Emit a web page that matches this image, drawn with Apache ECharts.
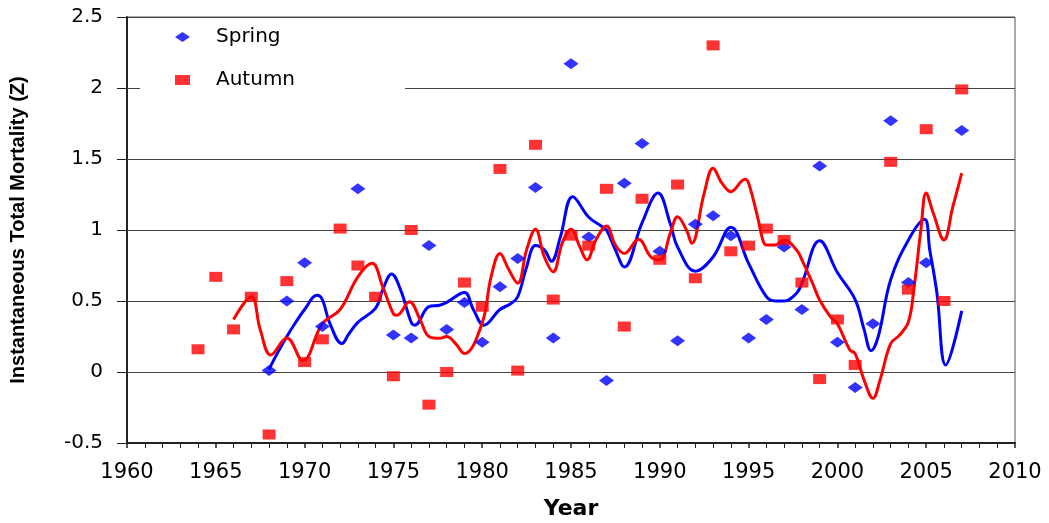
<!DOCTYPE html>
<html>
<head>
<meta charset="utf-8">
<script src="https://cdn.jsdelivr.net/npm/echarts@6/dist/echarts.min.js"></script>
<style>html,body{margin:0;padding:0;background:#fff;overflow:hidden}#c{width:1049px;height:523px}</style>
</head>
<body>
<div id="c"></div>
<script>
// Scatter data: [year, Z]
var springPoints = [[1968,0.01],[1969,0.5],[1970,0.77],[1971,0.32],[1973,1.29],[1975,0.26],[1976,0.24],[1977,0.89],[1978,0.3],[1979,0.49],[1980,0.21],[1981,0.6],[1982,0.8],[1983,1.3],[1984,0.24],[1985,2.17],[1986,0.95],[1987,-0.06],[1988,1.33],[1989,1.61],[1990,0.85],[1991,0.22],[1992,1.04],[1993,1.1],[1994,0.96],[1995,0.24],[1996,0.37],[1997,0.88],[1998,0.44],[1999,1.45],[2000,0.21],[2001,-0.11],[2002,0.34],[2003,1.77],[2004,0.63],[2005,0.77],[2007,1.7]];
var autumnPoints = [[1964,0.16],[1965,0.67],[1966,0.3],[1967,0.53],[1968,-0.44],[1969,0.64],[1970,0.07],[1971,0.23],[1972,1.01],[1973,0.75],[1974,0.53],[1975,-0.03],[1976,1.0],[1977,-0.23],[1978,0.0],[1979,0.63],[1980,0.46],[1981,1.43],[1982,0.01],[1983,1.6],[1984,0.51],[1985,0.96],[1986,0.89],[1987,1.29],[1988,0.32],[1989,1.22],[1990,0.79],[1991,1.32],[1992,0.66],[1993,2.3],[1994,0.85],[1995,0.89],[1996,1.01],[1997,0.93],[1998,0.63],[1999,-0.05],[2000,0.37],[2001,0.05],[2003,1.48],[2004,0.58],[2005,1.71],[2006,0.5],[2007,1.99]];
// Smoothed trend curves: [year, Z]
var springCurve = [[1968,0.02],[1968.5,0.14],[1969,0.25],[1969.5,0.35],[1970,0.44],[1970.7,0.54],[1971,0.51],[1971.4,0.35],[1972.1,0.2],[1972.5,0.27],[1973,0.35],[1974,0.45],[1974.4,0.58],[1974.9,0.69],[1975.4,0.58],[1976,0.35],[1976.2,0.33],[1977,0.46],[1977.6,0.47],[1978,0.49],[1979,0.56],[1979.5,0.44],[1980.1,0.33],[1981,0.44],[1981.6,0.48],[1982,0.53],[1982.5,0.74],[1983,0.89],[1983.5,0.86],[1983.9,0.78],[1984.4,0.95],[1985.1,1.235],[1986,1.09],[1986.8,1.02],[1987,1.0],[1987.5,0.86],[1988,0.74],[1989,1.05],[1989.9,1.26],[1990.6,1.04],[1991,0.88],[1992,0.71],[1993,0.81],[1994,1.02],[1995,0.765],[1996,0.53],[1996.5,0.5],[1997,0.5],[1997.7,0.555],[1998,0.625],[1999,0.925],[2000,0.7],[2001,0.51],[2001.5,0.3],[2001.9,0.15],[2002.3,0.25],[2003,0.65],[2004,0.93],[2004.9,1.075],[2005.2,0.86],[2005.6,0.56],[2006.1,0.05],[2007,0.43]];
var autumnCurve = [[1966,0.37],[1967,0.53],[1967.5,0.3],[1968.1,0.12],[1969,0.24],[1969.9,0.08],[1971,0.34],[1972,0.44],[1973,0.67],[1973.8,0.765],[1974.4,0.6],[1975,0.41],[1975.2,0.4],[1975.9,0.495],[1976.5,0.37],[1977,0.25],[1977.6,0.237],[1978,0.25],[1978.5,0.2],[1979,0.13],[1980,0.345],[1980.5,0.67],[1981,0.835],[1981.5,0.72],[1982,0.625],[1982.5,0.86],[1983,1.005],[1983.5,0.81],[1984,0.706],[1984.5,0.906],[1985,1.005],[1985.5,0.88],[1985.9,0.79],[1986.4,0.93],[1987,1.028],[1987.5,0.894],[1988,0.835],[1988.8,0.934],[1989.5,0.81],[1990,0.79],[1990.6,0.98],[1991,1.094],[1991.5,1.0],[1991.8,0.906],[1992.5,1.26],[1993,1.434],[1993.5,1.33],[1994,1.27],[1994.8,1.357],[1995,1.33],[1995.5,1.094],[1995.8,0.93],[1996,0.894],[1996.5,0.894],[1997,0.93],[1997.7,0.86],[1998,0.79],[1998.6,0.625],[1999,0.507],[1999.6,0.39],[2000,0.34],[2000.7,0.155],[2001,0.13],[2001.5,-0.056],[2002,-0.185],[2002.4,-0.056],[2003,0.2],[2003.5,0.26],[2004,0.354],[2004.3,0.577],[2004.7,1.0],[2005,1.26],[2005.4,1.118],[2006,0.93],[2006.5,1.164],[2007,1.4]];
var seriesNames = ['Spring','Autumn'];
var xTitle = 'Year';
var yTitle = 'Instantaneous Total Mortality (Z)';

var chart = echarts.init(document.getElementById('c'));
chart.setOption({
  animation: false,
  backgroundColor: '#fff',
  grid: {left: 127, right: 34, top: 17, bottom: 80, show: true, borderColor: '#555', borderWidth: 1, containLabel: false, outerBoundsMode: 'none'},
  legend: {
    data: seriesNames, orient: 'vertical', left: 140, top: 22,
    padding: [5, 110, 5, 35], backgroundColor: '#fff', itemWidth: 15, itemHeight: 10,
    itemGap: 23, selectedMode: false,
    textStyle: {fontFamily: 'DejaVu Sans', fontSize: 20, color: '#000', lineHeight: 20, padding: [0,0,0,21]}
  },
  xAxis: {
    type: 'value', min: 1960, max: 2010, interval: 5,
    name: xTitle, nameLocation: 'middle', nameGap: 55,
    nameTextStyle: {fontFamily: 'DejaVu Sans', fontWeight: 'bold', fontSize: 22, color: '#000'},
    axisLine: {onZero: false, lineStyle: {color: '#222', width: 2}},
    axisTick: {show: true, inside: false, length: 5, lineStyle: {color: '#222', width: 1.5}},
    minorTick: {show: true, splitNumber: 5, length: 5, lineStyle: {color: '#222', width: 1}},
    axisLabel: {fontFamily: 'DejaVu Sans', fontSize: 21, color: '#000', margin: 19, formatter: function (v) { return String(v); }},
    splitLine: {show: false}
  },
  yAxis: {
    type: 'value', min: -0.5, max: 2.5, interval: 0.5,
    name: yTitle, nameLocation: 'middle', nameGap: 99, nameRotate: 90,
    nameTextStyle: {fontFamily: 'Liberation Sans', fontWeight: 'bold', fontSize: 20, color: '#000'},
    axisLine: {show: true, lineStyle: {color: '#222', width: 2}},
    axisTick: {show: true, inside: false, length: 10, lineStyle: {color: '#222', width: 1}},
    axisLabel: {fontFamily: 'DejaVu Sans', fontSize: 20, color: '#000', margin: 24},
    splitLine: {show: true, lineStyle: {color: '#444', width: 1}}
  },
  series: [
    {name: 'Spring trend', type: 'line', data: springCurve, smooth: 0.4, symbol: 'none', lineStyle: {color: '#0000FF', width: 3}, z: 2},
    {name: 'Autumn trend', type: 'line', data: autumnCurve, smooth: 0.4, symbol: 'none', lineStyle: {color: '#FF0000', width: 3}, z: 2},
    {name: 'Spring', type: 'scatter', data: springPoints, symbol: 'diamond', symbolSize: [15, 11], itemStyle: {color: '#0000FF'}, z: 3},
    {name: 'Autumn', type: 'scatter', data: autumnPoints, symbol: 'rect', symbolSize: [13, 10], itemStyle: {color: '#FF0000'}, z: 3}
  ]
});
</script>
</body>
</html>
